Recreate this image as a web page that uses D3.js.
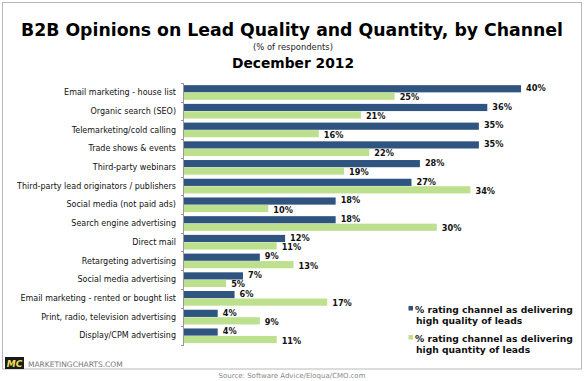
<!DOCTYPE html>
<html><head><meta charset="utf-8">
<script src="https://cdn.jsdelivr.net/npm/d3@7"></script>
<style>body{margin:0;background:#fff}svg{display:block}</style>
</head><body>
<script>
const categories = ["Email marketing - house list","Organic search (SEO)","Telemarketing/cold calling","Trade shows & events","Third-party webinars","Third-party lead originators / publishers","Social media (not paid ads)","Search engine advertising","Direct mail","Retargeting advertising","Social media advertising","Email marketing - rented or bought list","Print, radio, television advertising","Display/CPM advertising"];
const quality = [40,36,35,35,28,27,18,18,12,9,7,6,4,4];
const quantity = [25,21,16,22,19,34,10,30,11,13,5,17,9,11];
const seriesNames = ["% rating channel as delivering|high quality of leads","% rating channel as delivering|high quantity of leads"];
const colors = ["#2f5480","#bde08e"];

const W=585,H=381;
const svg=d3.select("body").append("svg").attr("width",W).attr("height",H);
const font="'DejaVu Sans', Verdana, sans-serif";
svg.append("rect").attr("x",2.5).attr("y",2.5).attr("width",579).attr("height",366.5).attr("fill","#fff").attr("stroke","#b8b8b8");

svg.append("text").attr("x",292).attr("y",35.5).attr("text-anchor","middle").attr("font-family",font).attr("font-weight","bold").attr("font-size",17.3).attr("fill","#000").text("B2B Opinions on Lead Quality and Quantity, by Channel");
svg.append("text").attr("x",293).attr("y",50).attr("text-anchor","middle").attr("font-family",font).attr("font-size",8.4).attr("fill","#222").text("(% of respondents)");
svg.append("text").attr("x",293).attr("y",67.5).attr("text-anchor","middle").attr("font-family",font).attr("font-weight","bold").attr("font-size",13.8).attr("fill","#000").text("December 2012");

const y=d3.scaleBand().domain(categories).range([83,345]).paddingInner(0.2).paddingOuter(0.1);
const y2=d3.scaleBand().domain([0,1]).range([0,y.bandwidth()]);
const x=d3.scaleLinear().domain([0,40]).range([184,521]);

// axis
const ag=svg.append("g").attr("transform","translate(184,0)");
ag.append("line").attr("x1",-0.5).attr("x2",-0.5).attr("y1",83).attr("y2",345).attr("stroke","#999");
const bounds=categories.map(c=>y(c)-y.step()*y.paddingInner()/2).concat([345]);
ag.selectAll(".tk").data(bounds).join("line").attr("x1",-3).attr("x2",0).attr("y1",d=>Math.round(d)+0.5).attr("y2",d=>Math.round(d)+0.5).attr("stroke","#999");

svg.append("g").selectAll("text").data(categories).join("text")
 .attr("x",176).attr("y",d=>y(d)+y.bandwidth()/2).attr("dy","0.35em").attr("text-anchor","end")
 .attr("font-family",font).attr("font-size",8).attr("fill","#111").text(d=>d);

const data=[quality,quantity];
data.forEach((vals,si)=>{
  const g=svg.append("g");
  g.selectAll("rect").data(vals).join("rect")
   .attr("x",x(0)).attr("y",(d,i)=>y(categories[i])+y2(si)+0.3).attr("width",d=>x(d)-x(0)).attr("height",y2.bandwidth()-0.3)
   .attr("fill",colors[si]);
  g.selectAll("text").data(vals).join("text")
   .attr("x",d=>x(d)+5).attr("y",(d,i)=>y(categories[i])+y2(si)+y2.bandwidth()/2+(si===0?-0.5:1.3)).attr("dy","0.35em")
   .attr("font-family",font).attr("font-weight","bold").attr("font-size",8.2).attr("fill","#111").text(d=>d+"%");
});

// legend
seriesNames.forEach((n,i)=>{
  const ly=306+i*29;
  svg.append("rect").attr("x",408.5).attr("y",ly).attr("width",4.5).attr("height",4.5).attr("fill",colors[i]);
  const parts=n.split("|");
  parts.forEach((p,j)=>{
    svg.append("text").attr("x",j===0?415:416).attr("y",ly+6.5+j*11).attr("font-family",font).attr("font-weight","bold").attr("font-size",9.2).attr("fill","#111").text(p);
  });
});

// footer
svg.append("rect").attr("x",5).attr("y",357).attr("width",19).attr("height",12).attr("fill","#1a1a1a");
svg.append("text").attr("x",14.5).attr("y",366.5).attr("text-anchor","middle").attr("font-family",font).attr("font-weight","bold").attr("font-style","italic").attr("font-size",9).attr("fill","#f3e25a").text("MC");
svg.append("text").attr("x",28).attr("y",367).attr("font-family",font).attr("font-size",7.5).attr("fill","#777").text("MARKETINGCHARTS.COM");
svg.append("text").attr("x",292).attr("y",378).attr("text-anchor","middle").attr("font-family",font).attr("font-size",7).attr("fill","#888").text("Source: Software Advice/Eloqua/CMO.com");
</script>
</body></html>
